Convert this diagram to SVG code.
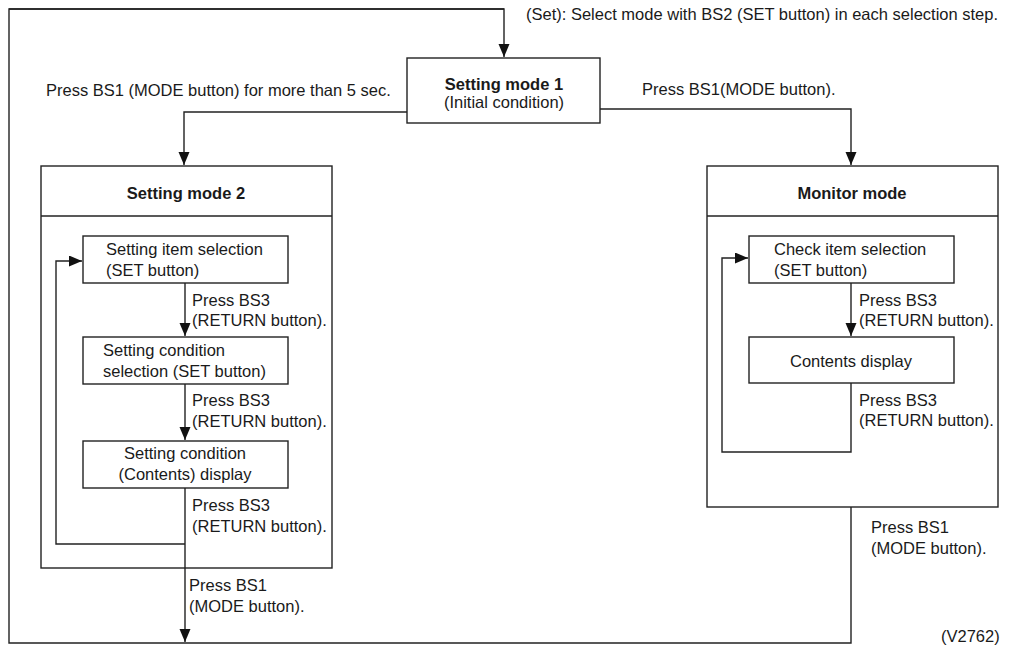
<svg xmlns="http://www.w3.org/2000/svg" width="1024" height="647" viewBox="0 0 1024 647">
<style>
text{font-family:"Liberation Sans",Arial,sans-serif;font-size:16.5px;fill:#1a1a1a}
.b{font-weight:bold}
.m{text-anchor:middle}
.box{fill:#fff;stroke:#222;stroke-width:1.4}
.ln{fill:none;stroke:#222;stroke-width:1.4}
</style>
<defs>
<marker id="ah" markerUnits="userSpaceOnUse" markerWidth="14" markerHeight="12" refX="13" refY="5.5" orient="auto">
<path d="M0,0 L13,5.5 L0,11 z" fill="#111"/>
</marker>
</defs>
<rect width="1024" height="647" fill="#fff"/>
<g id="connectors">
<path class="ln" d="M504,9 H9 V643 H851 V507" />
<path class="ln" d="M9,9 H504 V57" marker-end="url(#ah)"/>
<path class="ln" d="M407,112 H184 V165" marker-end="url(#ah)"/>
<path class="ln" d="M600,109 H851 V165" marker-end="url(#ah)"/>
<path class="ln" d="M185,283 V336" marker-end="url(#ah)"/>
<path class="ln" d="M185,384 V440" marker-end="url(#ah)"/>
<path class="ln" d="M185,488 V642" marker-end="url(#ah)"/>
<path class="ln" d="M185,544 H56 V261 H82" marker-end="url(#ah)"/>
<path class="ln" d="M851,283 V336" marker-end="url(#ah)"/>
<path class="ln" d="M851,383 V452 H722 V258 H748" marker-end="url(#ah)"/>
</g>
<g id="mode1">
<rect class="box" x="407" y="58" width="193" height="65"/>
<text class="b m" x="504" y="90">Setting mode 1</text>
<text class="m" x="504" y="108">(Initial condition)</text>
</g>
<g id="mode2">
<rect class="box" x="41" y="166" width="291" height="402" style="fill:none"/>
<line class="ln" x1="41" y1="216" x2="332" y2="216"/>
<text class="b m" x="186" y="199">Setting mode 2</text>
</g>
<g id="item-selection">
<rect class="box" x="83" y="236" width="205" height="47"/>
<text x="106" y="255">Setting item selection</text>
<text x="106" y="276">(SET button)</text>
</g>
<g id="condition-selection">
<rect class="box" x="83" y="337" width="205" height="47"/>
<text x="103" y="356">Setting condition</text>
<text x="103" y="377">selection (SET button)</text>
</g>
<g id="condition-display">
<rect class="box" x="83" y="441" width="205" height="47"/>
<text class="m" x="185" y="459">Setting condition</text>
<text class="m" x="185" y="480">(Contents) display</text>
</g>
<g id="monitor">
<rect class="box" x="707" y="166" width="291" height="341" style="fill:none"/>
<line class="ln" x1="707" y1="216" x2="998" y2="216"/>
<text class="b m" x="852" y="199">Monitor mode</text>
</g>
<g id="check-item">
<rect class="box" x="749" y="236" width="205" height="47"/>
<text x="774" y="255">Check item selection</text>
<text x="774" y="276">(SET button)</text>
</g>
<g id="contents-display">
<rect class="box" x="749" y="337" width="205" height="46"/>
<text class="m" x="851" y="367">Contents display</text>
</g>
<g id="labels">
<text x="526" y="20">(Set): Select mode with BS2 (SET button) in each selection step.</text>
<text x="46" y="96">Press BS1 (MODE button) for more than 5 sec.</text>
<text x="642" y="95">Press BS1(MODE button).</text>
<text x="192" y="306">Press BS3</text>
<text x="192" y="326">(RETURN button).</text>
<text x="192" y="406">Press BS3</text>
<text x="192" y="427">(RETURN button).</text>
<text x="192" y="511">Press BS3</text>
<text x="192" y="532">(RETURN button).</text>
<text x="189" y="591">Press BS1</text>
<text x="189" y="612">(MODE button).</text>
<text x="859" y="306">Press BS3</text>
<text x="859" y="326">(RETURN button).</text>
<text x="859" y="406">Press BS3</text>
<text x="859" y="426">(RETURN button).</text>
<text x="871" y="533">Press BS1</text>
<text x="871" y="554">(MODE button).</text>
<text x="941" y="642">(V2762)</text>
</g>
</svg>
